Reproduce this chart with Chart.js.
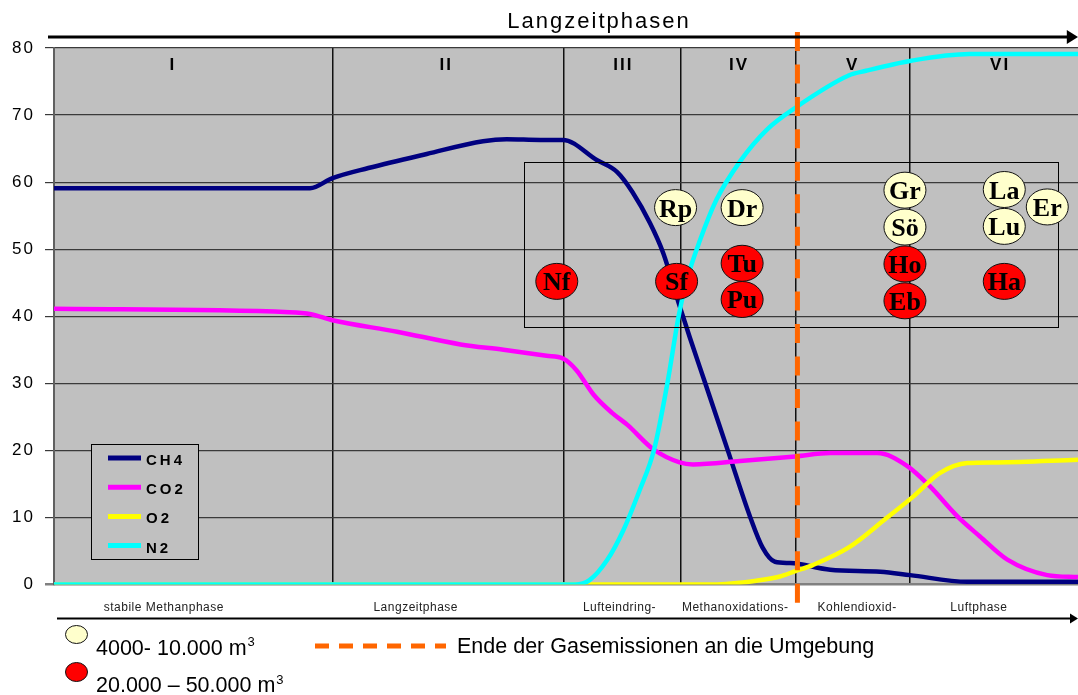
<!DOCTYPE html>
<html>
<head>
<meta charset="utf-8">
<script src="https://cdn.jsdelivr.net/npm/chart.js@4"></script>
<style>
  html, body { margin: 0; padding: 0; background: #fff; }
</style>
</head>
<body>
<canvas id="gasChart" width="1078" height="695"></canvas>
<script>
// x is an arbitrary time axis 0..100 (no scale shown in the original)
const seriesNames = ['CH4', 'CO2', 'O2', 'N2'];
const seriesColors = ['#000080', '#ff00ff', '#ffff00', '#00ffff'];

const ch4X = [0, 25.0, 27.2, 30.7, 36.4, 41.9, 44.2, 47.5, 49.7, 53.0, 55.0, 56.5, 58.2, 59.5, 61.1, 62.1, 63.6, 65.8, 68.0, 69.2, 70.4, 71.9, 75.8, 80.7, 83.6, 89.2, 100];
const ch4Y = [59.1, 59.1, 60.6, 62.1, 64.2, 66.1, 66.4, 66.3, 66.3, 63.3, 61.5, 58.5, 53.9, 49.4, 41.5, 36.8, 30.0, 20.0, 10.0, 5.5, 3.4, 3.2, 2.2, 1.9, 1.4, 0.4, 0.4];

const co2X = [0, 23.0, 25.1, 27.2, 33.5, 39.7, 43.9, 48.1, 49.7, 51.0, 52.7, 54.5, 56.0, 58.5, 61.1, 62.4, 67.0, 72.4, 75.8, 80.4, 83.3, 85.5, 88.2, 90.4, 93.1, 97.0, 100];
const co2Y = [41.1, 40.6, 40.3, 39.4, 37.7, 35.8, 35.0, 34.1, 33.7, 32.0, 28.3, 25.6, 23.8, 20.2, 18.2, 17.9, 18.4, 19.1, 19.6, 19.6, 17.7, 14.7, 10.2, 7.2, 3.7, 1.4, 1.1];

const o2X = [0, 64.4, 68.7, 70.9, 72.4, 74.1, 77.7, 81.3, 83.9, 86.5, 89.2, 92.1, 100];
const o2Y = [0, 0, 0.6, 1.2, 2.0, 2.9, 5.6, 9.9, 13.1, 16.6, 18.1, 18.2, 18.6];

const n2X = [0, 50.9, 52.3, 54.0, 55.6, 57.2, 58.6, 59.9, 61.0, 61.8, 63.1, 64.7, 67.0, 69.6, 72.5, 77.6, 79.3, 83.7, 89.4, 100];
const n2Y = [0, 0, 0.65, 3.6, 8.1, 14.1, 20.1, 30.0, 40.0, 45.4, 51.4, 57.4, 63.1, 67.8, 71.2, 75.9, 76.6, 78.1, 79.1, 79.1];

const yTicks = [0, 10, 20, 30, 40, 50, 60, 70, 80];

// phase boundaries and labels
const phaseBounds = [27.2, 49.8, 61.2, 72.4, 83.6];
const phaseNumerals = ['I', 'II', 'III', 'IV', 'V', 'VI'];
const phaseNumeralX = [11.5, 38.2, 55.5, 66.8, 77.9, 92.3];
const phaseNames = ['stabile Methanphase', 'Langzeitphase', 'Lufteindring-', 'Methanoxidations-', 'Kohlendioxid-', 'Luftphase'];
const phaseNameX = [10.7, 35.3, 55.2, 66.5, 78.4, 90.3];
const emissionEndX = 72.6;

// landfill sites (small = 4000-10.000 m3, large = 20.000-50.000 m3)
const siteLabels = ['Nf', 'Sf', 'Rp', 'Dr', 'Tu', 'Pu', 'Gr', 'Sö', 'Ho', 'Eb', 'La', 'Lu', 'Er', 'Ha'];
const siteX = [49.1, 60.8, 60.7, 67.2, 67.2, 67.2, 83.1, 83.1, 83.1, 83.1, 92.8, 92.8, 97.0, 92.8];
const siteY = [45.2, 45.2, 56.2, 56.2, 47.9, 42.5, 58.8, 53.3, 47.8, 42.3, 58.9, 53.4, 56.3, 45.2];
const siteSize = ['large', 'large', 'small', 'small', 'large', 'large', 'small', 'small', 'large', 'large', 'small', 'small', 'small', 'large'];
const siteBoxX = [45.9, 98.0];
const siteBoxY = [38.4, 63.0];

const sans = '"Liberation Sans", Arial, sans-serif';
const serif = '"Liberation Serif", "Times New Roman", serif';

function toPoints(xs, ys) {
    return xs.map((x, i) => ({ x: x, y: ys[i] }));
}

function text(ctx, str, x, y, opts) {
    ctx.font = `${opts.weight || 'normal'} ${opts.size}px ${opts.family || sans}`;
    const sp = opts.spacing || 0;
    ctx.letterSpacing = sp + 'px';
    ctx.textAlign = 'left';
    ctx.textBaseline = opts.baseline || 'alphabetic';
    let w = ctx.measureText(str).width - sp;
    let x0 = x;
    if (opts.align === 'center') x0 = x - w / 2;
    if (opts.align === 'right') x0 = x - w;
    ctx.fillStyle = opts.color || '#000';
    ctx.fillText(str, x0, y);
    return x0 + w;
}

function arrow(ctx, x0, x1, y, width, head) {
    ctx.strokeStyle = '#000';
    ctx.fillStyle = '#000';
    ctx.lineWidth = width;
    ctx.setLineDash([]);
    ctx.beginPath();
    ctx.moveTo(x0, y);
    ctx.lineTo(x1 - head, y);
    ctx.stroke();
    ctx.beginPath();
    ctx.moveTo(x1, y);
    ctx.lineTo(x1 - head * 1.6, y - head);
    ctx.lineTo(x1 - head * 1.6, y + head);
    ctx.closePath();
    ctx.fill();
}

function ellipse(ctx, cx, cy, rx, ry, fill) {
    ctx.beginPath();
    ctx.ellipse(cx, cy, rx, ry, 0, 0, Math.PI * 2);
    ctx.fillStyle = fill;
    ctx.fill();
    ctx.lineWidth = 1;
    ctx.strokeStyle = '#111';
    ctx.stroke();
}

const decorPlugin = {
    id: 'decor',
    beforeDraw(chart) {
        const { ctx, chartArea: a } = chart;
        ctx.save();
        ctx.fillStyle = '#c0c0c0';
        ctx.fillRect(a.left, a.top, a.right - a.left, a.bottom - a.top);
        ctx.restore();
        // spacing for the y tick labels
        ctx.letterSpacing = '2px';
    },
    afterDatasetsDraw(chart) {
        const { ctx, chartArea: a, scales: { x, y } } = chart;
        ctx.save();

        // phase numerals
        phaseNumerals.forEach((n, i) => {
            text(ctx, n, x.getPixelForValue(phaseNumeralX[i]), a.top + 22, { size: 17, weight: 'bold', spacing: 2, align: 'center' });
        });

        // frame around the sites
        ctx.strokeStyle = '#000';
        ctx.lineWidth = 1;
        const bx0 = x.getPixelForValue(siteBoxX[0]);
        const bx1 = x.getPixelForValue(siteBoxX[1]);
        const by0 = y.getPixelForValue(siteBoxY[1]);
        const by1 = y.getPixelForValue(siteBoxY[0]);
        ctx.strokeRect(Math.round(bx0) + 0.5, Math.round(by0) + 0.5, Math.round(bx1 - bx0), Math.round(by1 - by0));

        // legend box
        ctx.fillStyle = '#c0c0c0';
        ctx.fillRect(91, 444, 108, 115);
        ctx.strokeRect(91.5, 444.5, 107, 115);
        seriesNames.forEach((name, i) => {
            const ly = 458 + i * 29.2;
            ctx.strokeStyle = seriesColors[i];
            ctx.lineWidth = 5;
            ctx.beginPath();
            ctx.moveTo(108, ly);
            ctx.lineTo(141, ly);
            ctx.stroke();
            text(ctx, name, 146, ly + 7, { size: 15, weight: 'bold', spacing: 3 });
        });

        // site bubbles
        siteLabels.forEach((lab, i) => {
            const cx = x.getPixelForValue(siteX[i]);
            const cy = y.getPixelForValue(siteY[i]);
            ellipse(ctx, cx, cy, 21, 18, siteSize[i] === 'large' ? '#ff0000' : '#ffffcc');
            text(ctx, lab, cx, cy + 9, { size: 26, weight: 'bold', family: serif, align: 'center' });
        });

        // end of gas emissions
        const ex = x.getPixelForValue(emissionEndX);
        ctx.strokeStyle = '#ff6600';
        ctx.lineWidth = 5;
        ctx.setLineDash([19, 13.45]);
        ctx.beginPath();
        ctx.moveTo(ex, 32);
        ctx.lineTo(ex, 604);
        ctx.stroke();
        ctx.setLineDash([]);

        ctx.restore();
    },
    afterDraw(chart) {
        const { ctx, scales: { x } } = chart;
        ctx.save();

        text(ctx, 'Langzeitphasen', 598, 27.5, { size: 22, spacing: 2, align: 'center' });
        arrow(ctx, 48, 1078, 37, 3, 7);

        phaseNames.forEach((n, i) => {
            text(ctx, n, x.getPixelForValue(phaseNameX[i]), 611, { size: 12, spacing: 0.5, align: 'center', color: '#222' });
        });
        arrow(ctx, 57, 1078, 618.5, 2, 5);

        // bottom legend
        ellipse(ctx, 76.5, 634.5, 11, 9, '#ffffcc');
        let end = text(ctx, '4000- 10.000 m', 96, 655, { size: 21.5 });
        text(ctx, '3', end + 1, 646, { size: 13 });

        ellipse(ctx, 76.5, 672, 11, 9.5, '#ff0000');
        end = text(ctx, '20.000 \u2013 50.000 m', 96, 692, { size: 21.5 });
        text(ctx, '3', end + 1, 684, { size: 13 });

        ctx.strokeStyle = '#ff6600';
        ctx.lineWidth = 5;
        ctx.setLineDash([14, 10]);
        ctx.beginPath();
        ctx.moveTo(315, 646);
        ctx.lineTo(446, 646);
        ctx.stroke();
        ctx.setLineDash([]);
        text(ctx, 'Ende der Gasemissionen an die Umgebung', 457, 653, { size: 21.5 });

        ctx.restore();
    }
};

document.addEventListener('DOMContentLoaded', () => {
    const canvas = document.getElementById('gasChart');
    const allX = [ch4X, co2X, o2X, n2X];
    const allY = [ch4Y, co2Y, o2Y, n2Y];

    const datasets = seriesNames.map((name, i) => ({
        label: name,
        data: toPoints(allX[i], allY[i]),
        borderColor: seriesColors[i],
        backgroundColor: seriesColors[i],
        borderWidth: 4.5,
        pointRadius: 0,
        fill: false,
        cubicInterpolationMode: 'monotone',
        order: seriesNames.length - i   // later series drawn on top
    }));

    new Chart(canvas, {
        type: 'line',
        data: { datasets: datasets },
        options: {
            responsive: false,
            animation: false,
            layout: { padding: { top: 48, bottom: 110.5, left: 0, right: 0 } },
            plugins: {
                legend: { display: false },
                tooltip: { enabled: false }
            },
            scales: {
                x: {
                    type: 'linear',
                    min: 0,
                    max: 100,
                    afterBuildTicks: (axis) => { axis.ticks = phaseBounds.map(v => ({ value: v })); },
                    afterFit: (axis) => { axis.height = 0; },
                    ticks: { display: false },
                    grid: { color: '#111', lineWidth: 1.5, drawTicks: false },
                    border: { display: false }
                },
                y: {
                    min: 0,
                    max: 80,
                    afterBuildTicks: (axis) => { axis.ticks = yTicks.map(v => ({ value: v })); },
                    afterFit: (axis) => { axis.width = 54; },
                    ticks: {
                        color: '#000',
                        padding: 10,
                        font: { family: sans, size: 17 }
                    },
                    grid: {
                        color: (c) => c.tick && c.tick.value === 0 ? '#808080' : '#3a3a3a',
                        lineWidth: (c) => c.tick && c.tick.value === 0 ? 2.5 : 1.2,
                        tickLength: 9
                    },
                    border: { color: '#606060', width: 2 }
                }
            }
        },
        plugins: [decorPlugin]
    });
});
</script>
</body>
</html>
